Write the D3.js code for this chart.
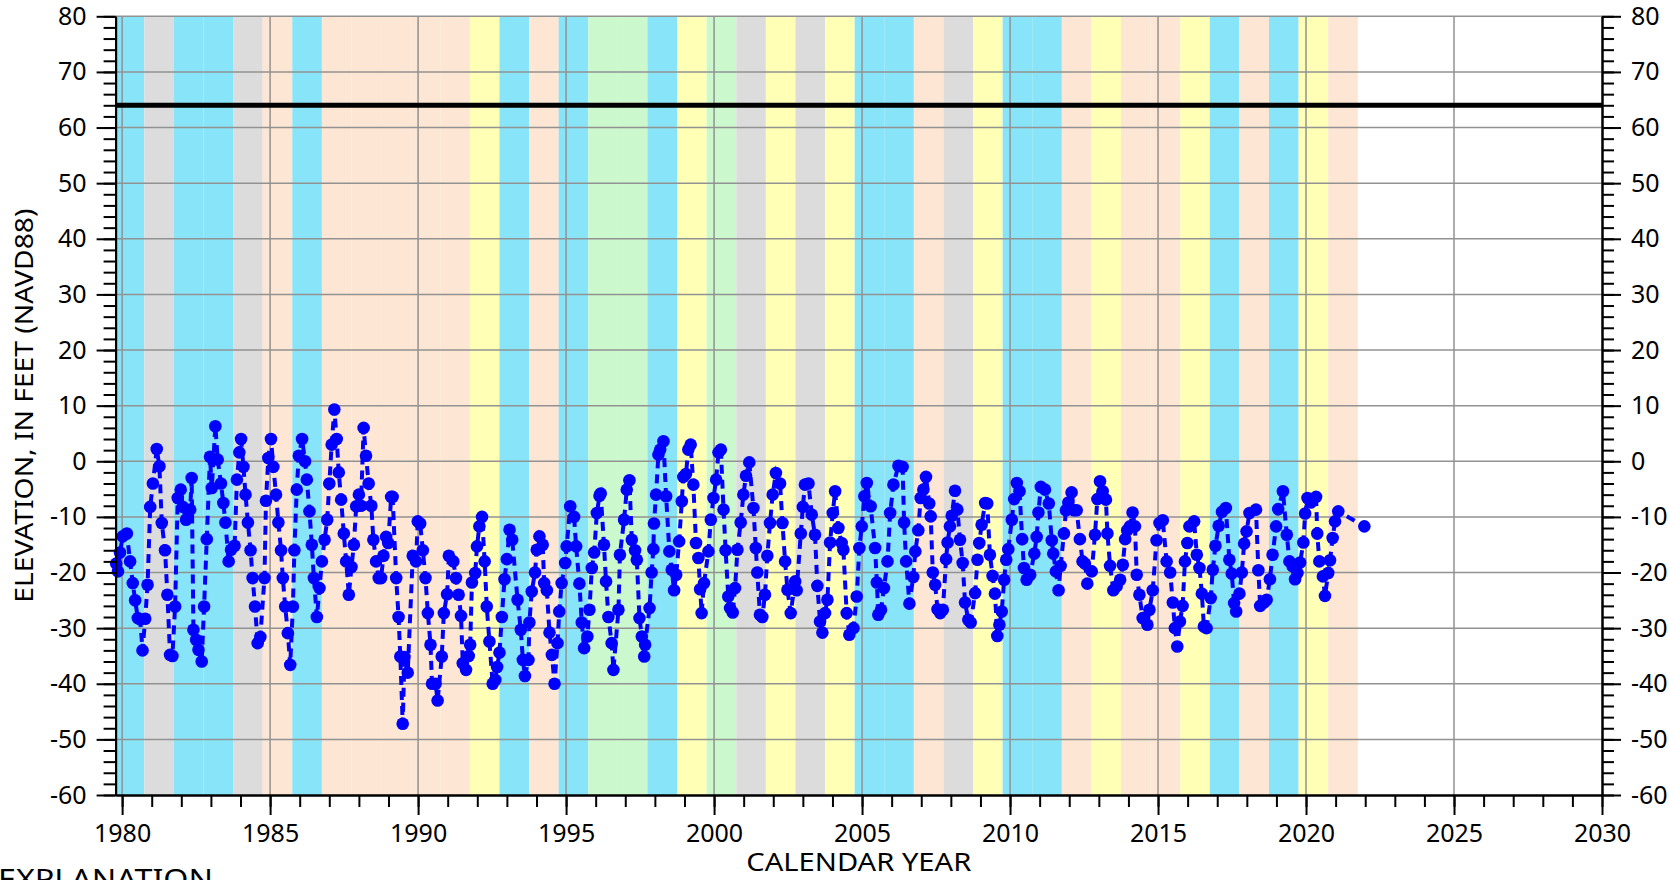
<!DOCTYPE html>
<html><head><meta charset="utf-8">
<script src="https://cdn.jsdelivr.net/npm/d3@7"></script>
<style>html,body{margin:0;padding:0;background:#fff;overflow:hidden}svg{display:block}</style>
</head><body><svg id="c" width="1670" height="880"></svg>
<script>
// Water-year classification bands (water year n = Oct 1 of n-1 to Sep 30 of n)
const waterYears = [1980,1981,1982,1983,1984,1985,1986,1987,1988,1989,1990,1991,1992,1993,1994,1995,1996,1997,1998,1999,2000,2001,2002,2003,2004,2005,2006,2007,2008,2009,2010,2011,2012,2013,2014,2015,2016,2017,2018,2019,2020,2021];
const yearTypes  = ["W","C","W","W","C","D","W","D","D","D","D","D","BN","W","D","W","AN","AN","W","BN","AN","C","BN","C","BN","W","W","D","C","BN","W","W","D","BN","D","D","BN","W","D","W","BN","D"];
const typeColors = {W:"#88e4f8", AN:"#cbf9cd", BN:"#ffffb6", D:"#fde6d3", C:"#dcdcdc"};

// Ground-water elevation observations [decimal year, feet NAVD88]
const obs1980s = [[1979.80,-18.4],[1979.86,-19.8],[1979.93,-16.4],[1980.02,-13.5],[1980.16,-13.0],[1980.27,-18.0],[1980.36,-21.9],[1980.44,-25.0],[1980.53,-28.2],[1980.61,-28.4],[1980.69,-34.0],[1980.78,-28.3],[1980.86,-22.2],[1980.95,-8.2],[1981.04,-4.0],[1981.17,2.2],[1981.26,-0.9],[1981.34,-11.1],[1981.45,-16.0],[1981.53,-24.0],[1981.62,-34.8],[1981.70,-35.0],[1981.79,-26.1],[1981.88,-6.6],[1981.98,-5.1],[1982.05,-8.2],[1982.16,-10.5],[1982.30,-8.7],[1982.35,-3.0],[1982.41,-30.3],[1982.50,-32.1],[1982.58,-33.9],[1982.69,-36.0],[1982.77,-26.1],[1982.86,-14.0],[1982.97,0.8],[1983.03,-4.8],[1983.15,6.3],[1983.23,0.3],[1983.34,-4.0],[1983.42,-7.5],[1983.49,-11.0],[1983.60,-18.0],[1983.68,-15.9],[1983.80,-15.2],[1983.88,-3.3],[1983.96,1.6],[1984.02,4.0],[1984.10,-1.0],[1984.17,-6.0],[1984.25,-11.0],[1984.34,-16.0],[1984.41,-21.0],[1984.49,-26.1],[1984.58,-32.7],[1984.67,-31.6],[1984.81,-21.0],[1984.86,-7.1],[1984.94,0.6],[1985.03,4.0],[1985.11,-1.0],[1985.20,-6.0],[1985.28,-11.0],[1985.37,-16.0],[1985.43,-21.0],[1985.51,-26.1],[1985.60,-30.9],[1985.68,-36.6],[1985.77,-26.1],[1985.82,-16.0],[1985.90,-5.1],[1985.97,1.0],[1986.08,4.0],[1986.18,0.0],[1986.24,-3.3],[1986.33,-9.0],[1986.41,-15.0],[1986.48,-21.0],[1986.58,-28.0],[1986.67,-22.8],[1986.75,-18.0],[1986.84,-14.1],[1986.93,-10.5],[1987.00,-4.0],[1987.08,3.0],[1987.17,9.3],[1987.25,4.0],[1987.32,-2.0],[1987.40,-6.9],[1987.49,-13.0],[1987.57,-18.0],[1987.66,-24.0],[1987.75,-19.0],[1987.83,-15.0],[1987.91,-8.1],[1988.00,-6.0],[1988.07,-8.0],[1988.16,6.0],[1988.24,1.0],[1988.33,-4.0],[1988.42,-8.0],[1988.49,-14.1],[1988.58,-18.0],[1988.67,-21.0],[1988.75,-21.0],[1988.83,-17.0],[1988.92,-13.6],[1988.99,-14.7],[1989.09,-6.4],[1989.14,-6.4],[1989.26,-21.0],[1989.34,-28.0],[1989.40,-35.1],[1989.48,-47.2],[1989.54,-35.2],[1989.65,-38.0],[1989.82,-17.0],[1989.93,-18.0],[1989.99,-10.8]];
const obs1990s = [[1990.07,-11.2],[1990.16,-16.0],[1990.25,-21.0],[1990.33,-27.3],[1990.42,-33.0],[1990.47,-40.0],[1990.59,-40.0],[1990.66,-43.0],[1990.80,-35.1],[1990.87,-27.3],[1990.98,-23.9],[1991.04,-17.0],[1991.19,-18.0],[1991.28,-21.0],[1991.37,-24.0],[1991.45,-27.8],[1991.51,-36.3],[1991.62,-37.5],[1991.71,-35.0],[1991.76,-33.0],[1991.82,-21.8],[1991.93,-20.1],[1991.99,-15.3],[1992.07,-11.7],[1992.16,-10.0],[1992.25,-18.0],[1992.32,-26.1],[1992.41,-32.4],[1992.52,-40.0],[1992.61,-39.3],[1992.67,-37.0],[1992.75,-34.4],[1992.83,-28.0],[1992.92,-21.2],[1993.00,-17.6],[1993.09,-12.3],[1993.18,-14.1],[1993.36,-24.9],[1993.47,-30.3],[1993.54,-35.7],[1993.61,-38.6],[1993.73,-35.7],[1993.76,-29.0],[1993.84,-23.4],[1993.95,-20.0],[1994.01,-15.9],[1994.10,-13.5],[1994.21,-15.0],[1994.26,-21.9],[1994.35,-23.2],[1994.44,-30.8],[1994.52,-34.8],[1994.61,-40.0],[1994.71,-32.7],[1994.77,-27.0],[1994.85,-21.9],[1994.97,-18.3],[1995.02,-15.3],[1995.14,-8.1],[1995.27,-10.0],[1995.34,-15.3],[1995.45,-22.0],[1995.53,-29.0],[1995.61,-33.6],[1995.72,-31.5],[1995.79,-26.7],[1995.87,-19.2],[1995.95,-16.4],[1996.04,-9.3],[1996.13,-6.2],[1996.17,-5.8],[1996.28,-15.0],[1996.35,-21.6],[1996.43,-28.0],[1996.54,-32.7],[1996.60,-37.5],[1996.77,-26.7],[1996.82,-16.8],[1996.96,-10.5],[1997.05,-5.1],[1997.14,-3.4],[1997.22,-14.1],[1997.33,-16.0],[1997.39,-17.7],[1997.48,-28.2],[1997.56,-31.5],[1997.64,-35.1],[1997.67,-33.0],[1997.82,-26.4],[1997.89,-20.0],[1997.95,-15.8],[1997.97,-11.2],[1998.04,-6.0],[1998.12,1.2],[1998.18,2.1],[1998.29,3.6],[1998.38,-6.3],[1998.49,-16.2],[1998.57,-19.5],[1998.65,-23.2],[1998.72,-20.4],[1998.82,-14.4],[1998.91,-7.2],[1998.96,-2.8],[1999.05,-2.3],[1999.13,2.1],[1999.21,3.0],[1999.30,-4.2],[1999.39,-14.7],[1999.47,-17.4],[1999.53,-23.0],[1999.58,-27.3],[1999.66,-21.9],[1999.81,-16.2],[1999.89,-10.5],[1999.98,-6.6]];
const obs2000s = [[2000.07,-3.3],[2000.15,1.6],[2000.23,2.1],[2000.32,-8.7],[2000.39,-16.0],[2000.48,-24.3],[2000.54,-26.4],[2000.63,-27.2],[2000.71,-22.8],[2000.79,-15.9],[2000.90,-11.0],[2000.99,-6.0],[2001.08,-2.6],[2001.19,-0.2],[2001.33,-8.4],[2001.41,-15.6],[2001.46,-20.0],[2001.55,-27.6],[2001.63,-28.0],[2001.72,-24.0],[2001.80,-17.0],[2001.89,-11.1],[2001.98,-6.0],[2002.09,-2.1],[2002.23,-4.0],[2002.31,-11.1],[2002.40,-18.0],[2002.48,-23.1],[2002.59,-27.3],[2002.74,-21.6],[2002.79,-23.2],[2002.93,-13.0],[2003.00,-8.2],[2003.07,-4.2],[2003.19,-4.0],[2003.30,-9.6],[2003.41,-13.2],[2003.49,-22.4],[2003.58,-28.8],[2003.66,-30.8],[2003.75,-27.3],[2003.83,-24.9],[2003.92,-14.6],[2004.01,-9.3],[2004.09,-5.4],[2004.20,-12.0],[2004.31,-14.7],[2004.37,-15.9],[2004.48,-27.3],[2004.57,-31.2],[2004.71,-30.0],[2004.82,-24.3],[2004.91,-15.6],[2004.99,-11.7],[2005.08,-6.3],[2005.16,-3.9],[2005.29,-8.1],[2005.44,-15.6],[2005.50,-21.8],[2005.55,-27.6],[2005.64,-26.7],[2005.74,-22.8],[2005.86,-18.0],[2005.95,-9.3],[2006.06,-4.2],[2006.23,-0.8],[2006.37,-1.0],[2006.42,-11.0],[2006.49,-18.0],[2006.60,-25.6],[2006.73,-20.8],[2006.80,-16.2],[2006.90,-12.4],[2006.98,-6.6],[2007.07,-5.1],[2007.16,-2.8],[2007.27,-7.6],[2007.32,-9.9],[2007.39,-20.0],[2007.47,-22.2],[2007.55,-26.6],[2007.64,-27.3],[2007.73,-26.7],[2007.84,-17.6],[2007.89,-14.6],[2007.97,-11.7],[2008.03,-9.8],[2008.14,-5.3],[2008.22,-8.7],[2008.31,-14.1],[2008.40,-18.3],[2008.48,-25.4],[2008.59,-28.5],[2008.67,-29.0],[2008.82,-23.7],[2008.90,-17.7],[2008.96,-14.7],[2009.04,-11.4],[2009.16,-7.5],[2009.23,-7.6],[2009.32,-16.8],[2009.41,-20.6],[2009.49,-23.8],[2009.57,-31.4],[2009.64,-29.4],[2009.72,-27.0],[2009.80,-21.3],[2009.87,-17.7],[2009.94,-15.8]];
const obs2010s = [[2010.06,-10.5],[2010.14,-6.8],[2010.23,-3.9],[2010.32,-5.4],[2010.41,-14.0],[2010.47,-19.2],[2010.56,-21.3],[2010.68,-20.4],[2010.82,-16.6],[2010.90,-13.6],[2010.96,-9.2],[2011.04,-4.6],[2011.18,-5.1],[2011.31,-7.6],[2011.41,-14.2],[2011.46,-16.6],[2011.55,-19.8],[2011.64,-23.2],[2011.71,-18.8],[2011.82,-13.0],[2011.89,-8.8],[2011.97,-7.4],[2012.08,-5.6],[2012.16,-8.8],[2012.25,-8.8],[2012.36,-14.0],[2012.45,-18.0],[2012.53,-18.4],[2012.61,-22.0],[2012.76,-19.8],[2012.87,-13.2],[2012.95,-6.8],[2013.04,-3.6],[2013.13,-5.4],[2013.24,-6.9],[2013.29,-13.0],[2013.38,-18.8],[2013.49,-23.2],[2013.60,-22.5],[2013.72,-21.3],[2013.81,-18.6],[2013.89,-14.0],[2013.96,-12.4],[2014.05,-11.7],[2014.14,-9.2],[2014.22,-11.7],[2014.28,-20.4],[2014.37,-24.0],[2014.48,-28.2],[2014.64,-29.4],[2014.71,-26.7],[2014.82,-23.2],[2014.95,-14.2],[2015.05,-11.1],[2015.16,-10.6],[2015.29,-18.0],[2015.41,-20.0],[2015.50,-25.4],[2015.57,-30.0],[2015.65,-33.3],[2015.74,-28.8],[2015.83,-26.0],[2015.91,-18.0],[2015.99,-14.7],[2016.06,-11.7],[2016.22,-10.8],[2016.31,-16.8],[2016.40,-19.2],[2016.48,-23.8],[2016.55,-29.7],[2016.64,-30.0],[2016.78,-24.6],[2016.85,-19.5],[2016.94,-15.2],[2017.05,-11.6],[2017.16,-9.1],[2017.29,-8.4],[2017.41,-17.7],[2017.49,-20.2],[2017.57,-25.5],[2017.64,-27.0],[2017.75,-23.8],[2017.83,-20.0],[2017.91,-14.8],[2017.99,-12.6],[2018.09,-9.3],[2018.31,-8.7],[2018.39,-19.6],[2018.45,-26.0],[2018.58,-25.4],[2018.67,-24.9],[2018.78,-21.2],[2018.87,-16.8],[2018.99,-11.7],[2019.06,-8.6],[2019.22,-5.4],[2019.35,-13.2],[2019.44,-18.0],[2019.55,-18.9],[2019.63,-21.2],[2019.71,-20.1],[2019.80,-18.2],[2019.91,-14.6],[2019.97,-9.4]];
const obs2020s = [[2020.05,-6.6],[2020.16,-7.4],[2020.34,-6.4],[2020.38,-13.0],[2020.45,-18.0],[2020.57,-20.7],[2020.64,-24.2],[2020.75,-20.1],[2020.81,-17.8],[2020.90,-13.8],[2020.98,-10.8],[2021.09,-9.0],[2021.97,-11.7]];

const referenceElev = 64;             // thick black reference line
const xMajorTicks = [1980,1985,1990,1995,2000,2005,2010,2015,2020,2025,2030];
const xMinorTicks = d3.range(1980, 2031, 1);
const yMajorTicks = [-60,-50,-40,-30,-20,-10,0,10,20,30,40,50,60,70,80];
const yMinorTicks = d3.range(-60, 81, 2);

const svg = d3.select("#c");
const L = 115.6, R = 1602, T = 16.3, B = 795;
const x = d3.scaleLinear().domain([1979.78, 2030]).range([L, R]);
const y = d3.scaleLinear().domain([-60, 80]).range([B, T]);
const FONT = "'Noto Sans', 'Liberation Sans', sans-serif";

// bands
svg.append("g").selectAll("rect").data(waterYears).join("rect")
  .attr("x", d => Math.max(L, x(d - 0.25)))
  .attr("width", d => x(d + 0.75) - Math.max(L, x(d - 0.25)))
  .attr("y", T).attr("height", B - T)
  .attr("fill", (d, i) => typeColors[yearTypes[i]]);

// grid
const grid = svg.append("g").attr("stroke", "#929292").attr("stroke-width", 1.5);
grid.selectAll("line.h").data(yMajorTicks.filter(v => v > -60)).join("line")
  .attr("x1", L).attr("x2", R).attr("y1", d => y(d)).attr("y2", d => y(d));
grid.selectAll("line.v").data(xMajorTicks.filter(v => v < 2030)).join("line")
  .attr("x1", d => x(d)).attr("x2", d => x(d)).attr("y1", T).attr("y2", B);

// reference line
svg.append("line").attr("x1", L).attr("x2", R)
  .attr("y1", y(referenceElev)).attr("y2", y(referenceElev))
  .attr("stroke", "#000").attr("stroke-width", 5);

// data
const obs = [].concat(obs1980s, obs1990s, obs2000s, obs2010s, obs2020s);
svg.append("path").datum(obs)
  .attr("d", d3.line().x(d => x(d[0])).y(d => y(d[1])))
  .attr("fill", "none").attr("stroke", "#0000ff").attr("stroke-width", 4)
  .attr("stroke-dasharray", "9,6");
svg.append("g").selectAll("circle").data(obs).join("circle")
  .attr("cx", d => x(d[0])).attr("cy", d => y(d[1])).attr("r", 6.3)
  .attr("fill", "#0000ff");

// axes
function styleAxis(g) {
  g.selectAll("path").attr("stroke", "#000").attr("stroke-width", 2);
  g.selectAll("line").attr("stroke", "#000").attr("stroke-width", 2);
  g.selectAll("text").attr("font-family", FONT).attr("font-size", 25).attr("fill", "#000");
}
const fmt = d => String(d);
svg.append("g").attr("transform", `translate(${L},0)`)
  .call(d3.axisLeft(y).tickValues(yMinorTicks).tickSize(12).tickSizeOuter(0).tickFormat(""))
  .call(styleAxis);
svg.append("g").attr("transform", `translate(${L},0)`)
  .call(d3.axisLeft(y).tickValues(yMajorTicks).tickSize(19).tickPadding(10).tickSizeOuter(0).tickFormat(fmt))
  .call(styleAxis);
svg.append("g").attr("transform", `translate(${R},0)`)
  .call(d3.axisRight(y).tickValues(yMinorTicks).tickSize(12).tickSizeOuter(0).tickFormat(""))
  .call(styleAxis);
svg.append("g").attr("transform", `translate(${R},0)`)
  .call(d3.axisRight(y).tickValues(yMajorTicks).tickSize(19).tickPadding(10).tickSizeOuter(0).tickFormat(fmt))
  .call(styleAxis);
svg.append("g").attr("transform", `translate(0,${B})`)
  .call(d3.axisBottom(x).tickValues(xMinorTicks).tickSize(12).tickSizeOuter(0).tickFormat(""))
  .call(styleAxis);
svg.append("g").attr("transform", `translate(0,${B})`)
  .call(d3.axisBottom(x).tickValues(xMajorTicks).tickSize(20).tickPadding(9).tickSizeOuter(0).tickFormat(fmt))
  .call(styleAxis);

// titles
svg.append("text").attr("transform", `translate(33,${(T + B) / 2}) rotate(-90)`)
  .attr("text-anchor", "middle").attr("font-family", FONT).attr("font-size", 26)
  .attr("textLength", 394).attr("lengthAdjust", "spacingAndGlyphs")
  .text("ELEVATION, IN FEET (NAVD88)");
svg.append("text").attr("x", (L + R) / 2).attr("y", 871)
  .attr("text-anchor", "middle").attr("font-family", FONT).attr("font-size", 26)
  .attr("textLength", 225).attr("lengthAdjust", "spacingAndGlyphs")
  .text("CALENDAR YEAR");
svg.append("text").attr("x", -2).attr("y", 889)
  .attr("font-family", FONT).attr("font-size", 27)
  .attr("textLength", 215).attr("lengthAdjust", "spacingAndGlyphs")
  .text("EXPLANATION");
</script></body></html>
